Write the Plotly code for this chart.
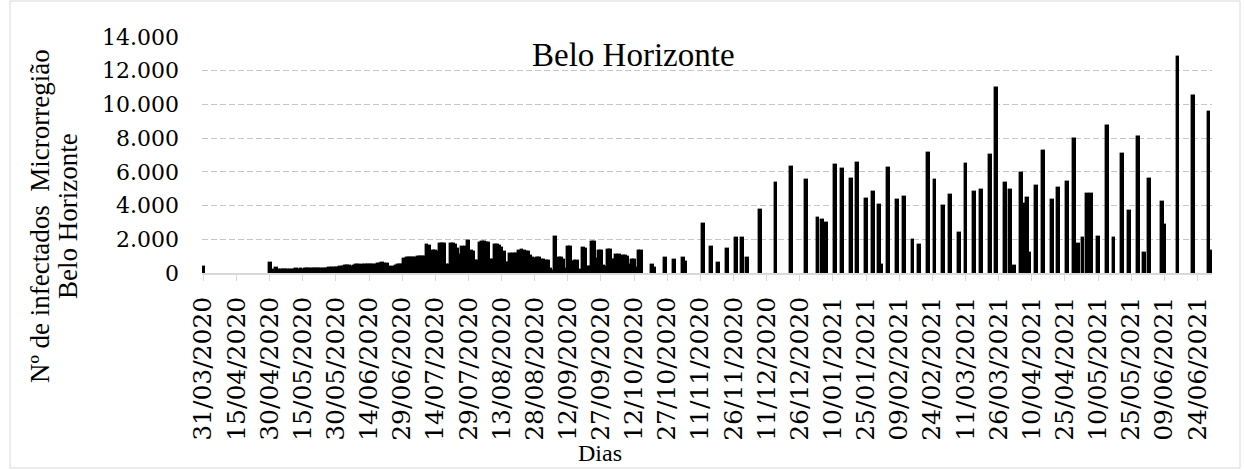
import pandas as pd
import plotly.graph_objects as go

# Daily new cases (0 = no report), Microrregião Belo Horizonte
mar_2020 = [330]
apr_2020 = [0, 0, 0, 0, 0, 0, 0, 0, 0, 0, 0, 0, 0, 0, 0, 0, 0, 0, 0, 0, 0, 0, 0, 0, 0, 0, 0, 0, 0, 620]
may_2020 = [160, 140, 300, 150, 170, 150, 180, 160, 190, 170, 200, 210, 190, 220, 200, 230,
            210, 240, 220, 230, 250, 220, 260, 240, 230, 250, 290, 280, 300, 310, 290]
jun_2020 = [350, 380, 400, 390, 410, 380, 430, 460, 470, 440, 480, 450, 500, 470, 460, 490,
            480, 560, 540, 570, 550, 530, 340, 320, 330, 440, 460, 470, 450, 860]
jul_2020 = [900, 880, 910, 870, 900, 940, 960, 950, 930, 1640, 1620, 690, 1280, 1290, 1260, 1700,
            1720, 1710, 490, 480, 1700, 1720, 1650, 1400, 1090, 1520, 1500, 1540, 1870, 1300, 1250]
aug_2020 = [730, 700, 1800, 1820, 1810, 1790, 1760, 800, 780, 1680, 1650, 1600, 1480, 1250, 600, 580,
            1130, 1100, 1150, 1120, 1280, 1380, 1300, 1240, 1240, 1000, 870, 850, 910, 900, 780]
sep_2020 = [750, 720, 700, 260, 120, 2120, 400, 910, 900, 790, 250, 1550, 1530, 650, 710, 700,
            150, 120, 1460, 1440, 360, 350, 1860, 1840, 850, 1300, 1280, 400, 380, 1380]
oct_2020 = [1360, 790, 780, 1090, 1070, 150, 990, 980, 960, 490, 790, 780, 300, 1310, 1290, 0,
            0, 0, 0, 480, 300, 0, 0, 0, 0, 880, 0, 0, 0, 800, 0]
nov_2020 = [0, 0, 900, 670, 0, 0, 0, 0, 0, 0, 0, 2900, 0, 0, 0, 1540, 0, 0, 570, 0, 0, 0, 1400, 0,
            0, 0, 2070, 0, 0, 2070]
dec_2020 = [0, 870, 0, 0, 0, 0, 0, 3720, 0, 0, 0, 0, 0, 0, 5340, 0, 0, 0, 0, 0, 0, 6290, 0, 0,
            0, 0, 0, 0, 5500, 0, 0]
jan_2021 = [0, 0, 3260, 0, 3160, 0, 2960, 0, 0, 0, 6430, 0, 0, 6170, 0, 0, 0, 5550, 0, 0, 6530, 0,
            0, 0, 4380, 0, 0, 4810, 0, 0, 4030]
feb_2021 = [500, 0, 0, 6200, 0, 0, 0, 4330, 0, 0, 4490, 0, 0, 0, 1950, 0, 0, 1650, 0, 0, 0, 7120,
            0, 0, 5540, 0, 0, 0]
mar_2021 = [3970, 0, 0, 4650, 0, 0, 0, 2380, 0, 0, 6480, 0, 0, 0, 4810, 0, 0, 4930, 0, 0, 0, 7020,
            0, 0, 10960, 0, 0, 0, 5340, 0, 4950]
apr_2021 = [0, 430, 0, 0, 5940, 0, 4100, 4420, 1160, 0, 0, 5190, 0, 0, 7240, 0, 0, 0, 4340, 0, 0,
            5060, 0, 0, 0, 5390, 0, 0, 7930, 0]
may_2021 = [1700, 0, 2050, 0, 4680, 0, 4690, 0, 0, 2110, 0, 0, 0, 8700, 0, 0, 2080, 0, 0, 0, 7030,
            0, 0, 3690, 0, 0, 0, 8070, 0, 0, 1210]
jun_2021 = [0, 5560, 0, 0, 0, 0, 0, 4210, 2850, 0, 0, 0, 0, 0, 12800, 0, 0, 0, 0, 0, 0, 10500, 0, 0,
            0, 0, 0, 0, 9560, 1280]

start_date = "2020-03-31"
y_ticks = [0, 2000, 4000, 6000, 8000, 10000, 12000, 14000]
chart_title = "Belo Horizonte"
y_title_1 = "Nº de infectados\u00a0 Microrregião"
y_title_2 = "Belo Horizonte"
x_title = "Dias"

months = [mar_2020, apr_2020, may_2020, jun_2020, jul_2020, aug_2020, sep_2020, oct_2020,
          nov_2020, dec_2020, jan_2021, feb_2021, mar_2021, apr_2021, may_2021, jun_2021]
values = [v for m in months for v in m]
dates = pd.date_range(start_date, periods=len(values), freq="D")
y_vals = [v if v > 0 else None for v in values]

DAY = 86400000

fig = go.Figure()
fig.add_trace(go.Bar(
    x=dates, y=y_vals,
    width=0.85 * DAY,
    marker=dict(color="black", line=dict(color="black", width=2.4)),
    hoverinfo="x+y",
))

L, R, T, B = 202, 32, 37, 197
W, H = 1244, 470
pw = W - L - R
ph = H - T - B


def px(x):
    return (x - L) / pw


def py(y):
    return (H - B - y) / ph


serif = "Liberation Serif"
serif2 = "DejaVu Serif"

fig.update_layout(
    width=W, height=H,
    margin=dict(l=L, r=R, t=T, b=B, pad=0),
    paper_bgcolor="white", plot_bgcolor="white",
    separators=",.",
    showlegend=False,
    bargap=0,
    font=dict(family=serif, color="black"),
    xaxis=dict(
        type="date",
        range=["2020-03-30 09:36", "2021-06-30 14:24"],
        tick0=start_date, dtick=15 * DAY,
        tickformat="%d/%m/%Y",
        tickangle=-90,
        tickfont=dict(family=serif2, size=25, color="black"),
        ticks="outside", ticklen=6, tickcolor="#d9d9d9", tickwidth=1.3,
        showline=True, linecolor="#d9d9d9", linewidth=1.5,
        showgrid=False, zeroline=False,
        ticklabelstandoff=6,
    ),
    yaxis=dict(
        range=[0, 14000],
        tickvals=y_ticks,
        tickformat=",d",
        tickfont=dict(family=serif2, size=22, color="black"),
        showgrid=True, gridcolor="#c6c6c6", gridwidth=1.3, griddash="6px,3px",
        zeroline=False, showline=False, ticks="",
        ticklabelstandoff=22,
    ),
)

fig.add_annotation(text=chart_title, x=px(633), y=py(55), xref="paper", yref="paper",
                   showarrow=False, xanchor="center", yanchor="middle",
                   font=dict(family=serif, size=33, color="black"))
fig.add_annotation(text=x_title, x=px(600), y=py(453), xref="paper", yref="paper",
                   showarrow=False, xanchor="center", yanchor="middle",
                   font=dict(family=serif, size=24, color="black"))
fig.add_annotation(text=y_title_1, x=px(40), y=py(216), xref="paper", yref="paper",
                   showarrow=False, xanchor="center", yanchor="middle", textangle=-90,
                   font=dict(family=serif, size=27, color="black"))
fig.add_annotation(text=y_title_2, x=px(68), y=py(216), xref="paper", yref="paper",
                   showarrow=False, xanchor="center", yanchor="middle", textangle=-90,
                   font=dict(family=serif, size=27, color="black"))

fig.add_shape(type="rect", xref="paper", yref="paper",
              x0=px(10), x1=px(1240), y0=py(468), y1=py(1),
              line=dict(color="#d9d9d9", width=1), fillcolor="rgba(0,0,0,0)", layer="below")

fig.write_html(
    "out.html",
    config={"displayModeBar": False},
    post_script="document.body.style.margin='0';document.body.style.padding='0';"
                "document.body.style.overflow='hidden';",
)
